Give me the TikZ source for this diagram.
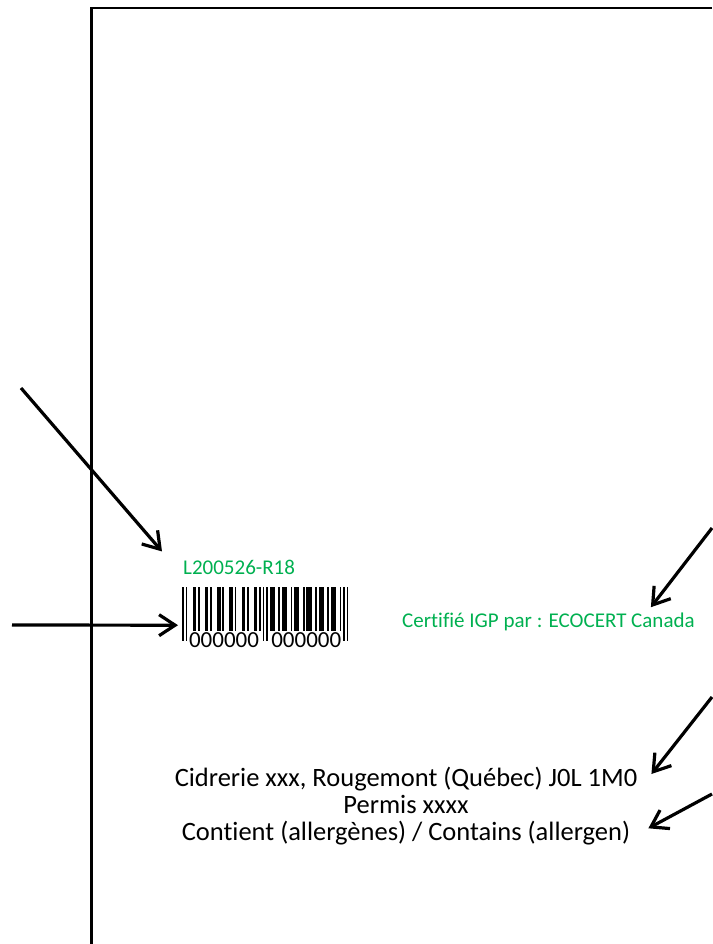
\documentclass[tikz,border=0pt]{standalone}
\usepackage{fontspec}
\setmainfont{Carlito}[Ligatures=NoCommon]
\usetikzlibrary{arrows.meta,positioning}
\definecolor{igpgreen}{RGB}{0,176,80}
\tikzset{
  pointer/.style={line width=3.2pt,-{Straight Barb[length=16pt,width=21pt]}},
  greentxt/.style={text=igpgreen,font=\fontsize{21}{25}\selectfont,inner sep=0pt},
  info/.style={font=\fontsize{26.5}{30}\selectfont,inner sep=0pt,text height=19pt,text depth=6pt},
  digits/.style={font=\fontsize{23}{23}\selectfont,inner sep=0pt,anchor=base}
}
\begin{document}
\begin{tikzpicture}[x=1pt,y=-1pt]
  \useasboundingbox (0,0) rectangle (712,944);

  % LABEL FRAME
  \draw[line width=2.6pt] (91.3,944) -- (91.3,8) -- (712,8);

  % LOT AND BARCODE
  \node[greentxt,anchor=base west] (lot) at (183,574) {L200526-R18};
  \node[minimum width=166pt,minimum height=55pt,inner sep=0pt,anchor=north west] (code) at (182,587) {};
  \begin{scope}[shift={(code.north west)},x=1.75pt]
    \foreach \m in {0,2,46,48,92,94}
      \fill (\m,0) rectangle ++(1,54);
    \foreach \d in {0,...,5} {
      \fill ({6+7*\d},0) rectangle ++(2,44);
      \fill ({9+7*\d},0) rectangle ++(1,44);
      \fill ({50+7*\d},0) rectangle ++(3,44);
      \fill ({55+7*\d},0) rectangle ++(1,44);
    }
    \node[digits] (leftdigits) at (24,60) {000000};
    \node[digits] (rightdigits) at (71,60) {000000};
  \end{scope}

  % CERTIFICATION
  \node[greentxt,anchor=base west] (cert) at (402,627) {Certifié IGP par : ECOCERT Canada};

  % PRODUCER LINES
  \node[info,anchor=base] (addr) at (406,786) {Cidrerie xxx, Rougemont (Québec) J0L 1M0};
  \node[info,below=2pt of addr] (permit) {Permis xxxx};
  \node[info,below=2pt of permit] (allergen) {Contient (allergènes) / Contains (allergen)};

  % POINTERS
  \coordinate (c1) at (21,388);
  \coordinate (c2) at (12,625);
  \coordinate (c3) at (712,528);
  \coordinate (c4) at (712,697);
  \coordinate (c5) at (712,794);

  \draw[pointer] (c1) -- ([xshift=-21pt,yshift=8pt]lot.north west);
  \draw[pointer] (c2) -- ([xshift=-4pt,yshift=-10.5pt]code.west);
  \draw[pointer] (c3) -- ([xshift=-44pt,yshift=5pt]cert.north east);
  \draw[pointer] (c4) -- ([xshift=14pt,yshift=5.5pt]addr.east);
  \draw[pointer] (c5) -- ([xshift=18pt,yshift=6pt]allergen.east);
\end{tikzpicture}
\end{document}
